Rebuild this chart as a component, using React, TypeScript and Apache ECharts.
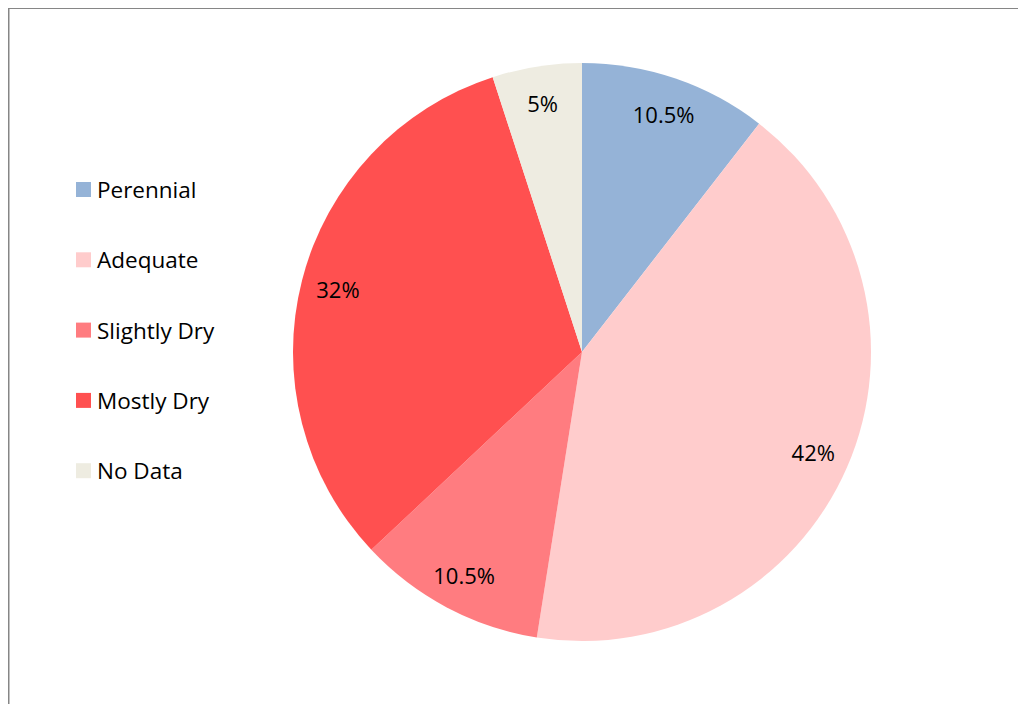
import React, { useEffect, useRef } from "react";
import * as echarts from "echarts";

const categories = ["Perennial", "Adequate", "Slightly Dry", "Mostly Dry", "No Data"];
const values = [10.5, 42, 10.5, 32, 5];
const labels = ["10.5%", "42%", "10.5%", "32%", "5%"];
const colors = ["#95B3D7", "#FFCCCC", "#FF7C80", "#FF5050", "#EEECE1"];

export default function App() {
  const ref = useRef<HTMLDivElement>(null);
  useEffect(() => {
    if (!ref.current) return;
    const chart = echarts.init(ref.current, null, { renderer: "svg" });
    const font = "'Open Sans', 'Noto Sans', sans-serif";
    chart.setOption({
      animation: false,
      backgroundColor: "#ffffff",
      color: colors,
      legend: {
        orient: "vertical",
        left: 63,
        top: 165,
        itemWidth: 15,
        itemHeight: 15,
        itemGap: 47.3,
        icon: "rect",
        data: categories,
        selectedMode: false,
        textStyle: { fontFamily: font, fontSize: 22.5, color: "#000", padding: [0, 0, 0, 1] },
      },
      graphic: [
        { type: "rect", shape: { x: 0, y: 0, width: 1010, height: 1 }, style: { fill: "#868686" }, silent: true },
        { type: "rect", shape: { x: 0, y: 0, width: 1.5, height: 696 }, style: { fill: "#868686" }, silent: true },
      ],
      series: [
        {
          type: "pie",
          center: [574, 344],
          radius: [0, 289],
          startAngle: 90,
          clockwise: true,
          label: { show: false },
          labelLine: { show: false },
          emphasis: { disabled: true },
          itemStyle: { borderWidth: 0 },
          data: categories.map((n, i) => ({ name: n, value: values[i], itemStyle: { color: colors[i] } })),
        },
        {
          type: "pie",
          center: [574, 344],
          radius: [209, 289],
          startAngle: 90,
          clockwise: true,
          silent: true,
          emphasis: { disabled: true },
          itemStyle: { color: "rgba(0,0,0,0)", borderWidth: 0 },
          label: {
            show: true,
            position: "inside",
            fontFamily: font,
            fontSize: 22,
            color: "#000",
            formatter: (p: any) => labels[p.dataIndex],
          },
          labelLine: { show: false },
          data: categories.map((n, i) => ({ name: n, value: values[i] })),
        },
      ],
    });
    return () => chart.dispose();
  }, []);
  return (
    <div
      ref={ref}
      style={{ position: "absolute", left: 8, top: 8, width: 1010, height: 696 }}
    />
  );
}
